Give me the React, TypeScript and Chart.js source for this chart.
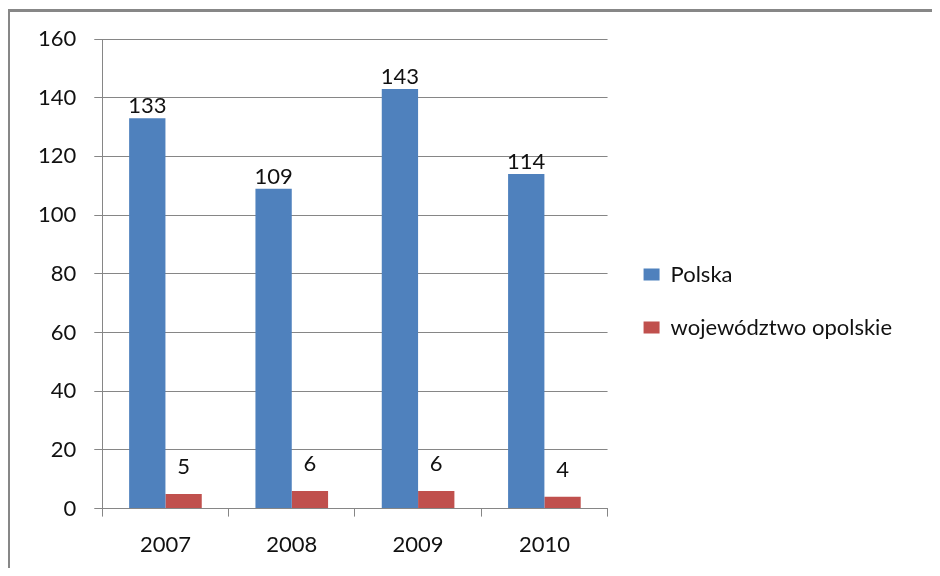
import React, { useEffect, useRef } from "react";
import { Chart, registerables } from "chart.js";

Chart.register(...registerables);

const categories = ["2007", "2008", "2009", "2010"];
const polska = [133, 109, 143, 114];
const opolskie = [5, 6, 6, 4];
const seriesNames = ["Polska", "województwo opolskie"];
const yMin = 0;
const yMax = 160;
const yStep = 20;

const FONT = "Lato";
const FONT_SIZE = 22;
const TEXT = "#111";

const valueLabels = {
  id: "valueLabels",
  afterDatasetsDraw(chart: any) {
    const ctx = chart.ctx;
    ctx.save();
    ctx.font = `${FONT_SIZE}px ${FONT}`;
    ctx.fillStyle = TEXT;
    ctx.textAlign = "center";
    ctx.textBaseline = "alphabetic";
    chart.data.datasets.forEach((ds: any, i: number) => {
      const meta = chart.getDatasetMeta(i);
      meta.data.forEach((bar: any, j: number) => {
        const off = i === 0 ? 5 : 20;
        ctx.fillText(String(ds.data[j]), bar.x, bar.y - off);
      });
    });
    ctx.restore();
  },
};

export default function App() {
  const ref = useRef<HTMLCanvasElement | null>(null);
  useEffect(() => {
    if (!ref.current) return;
    Chart.defaults.font.family = FONT;
    Chart.defaults.font.size = FONT_SIZE;
    Chart.defaults.color = TEXT;
    const chart = new Chart(ref.current, {
      type: "bar",
      data: {
        labels: categories,
        datasets: [
          {
            label: seriesNames[0],
            data: polska,
            backgroundColor: "#4F81BD",
            barPercentage: 1,
            categoryPercentage: 0.575,
          },
          {
            label: seriesNames[1],
            data: opolskie,
            backgroundColor: "#C0504D",
            barPercentage: 1,
            categoryPercentage: 0.575,
          },
        ],
      },
      options: {
        animation: false,
        responsive: false,
        maintainAspectRatio: false,
        layout: { padding: { left: 20, top: 29, right: 38, bottom: 3 } },
        plugins: {
          title: {
            display: true,
            text: "",
            fullSize: false,
            position: "top",
            padding: 0,
            font: { size: 10, lineHeight: 1 },
          },
          legend: {
            position: "right",
            maxWidth: 400,
            labels: {
              boxWidth: 16,
              boxHeight: 12,
              padding: 31,
              color: TEXT,
              font: { family: FONT, size: FONT_SIZE },
            },
          },
          tooltip: { enabled: false },
        },
        scales: {
          x: {
            grid: {
              display: true,
              drawOnChartArea: false,
              drawTicks: true,
              tickLength: 8,
              color: "#868686",
              offset: true,
            },
            border: { display: true, color: "#868686" },
            ticks: { padding: 15, color: TEXT, font: { family: FONT, size: FONT_SIZE } },
          },
          y: {
            min: yMin,
            max: yMax,
            grid: {
              display: true,
              drawTicks: true,
              tickLength: 8,
              color: "#868686",
            },
            border: { display: true, color: "#868686" },
            ticks: {
              stepSize: yStep,
              padding: 18,
              color: TEXT,
              font: { family: FONT, size: FONT_SIZE },
            },
          },
          gap: {
            type: "linear",
            position: "right",
            display: true,
            grid: { display: false, drawTicks: false },
            border: { display: false },
            ticks: { display: false },
            afterFit: (s: any) => {
              s.width = 5;
            },
          },
        },
      },
      plugins: [valueLabels],
    });
    return () => chart.destroy();
  }, []);

  return (
    <div
      style={{
        position: "relative",
        width: 940,
        height: 576,
        margin: -8,
        overflow: "hidden",
        background: "#fff",
      }}
    >
      <div
        style={{
          position: "absolute",
          left: 7,
          top: 9,
          width: 1000,
          height: 1000,
          borderLeft: "3px solid #878787",
          borderTop: "3px solid #878787",
        }}
      />
      <canvas
        ref={ref}
        width={940}
        height={576}
        style={{ position: "absolute", left: 0, top: 0, width: 940, height: 576 }}
      />
    </div>
  );
}
